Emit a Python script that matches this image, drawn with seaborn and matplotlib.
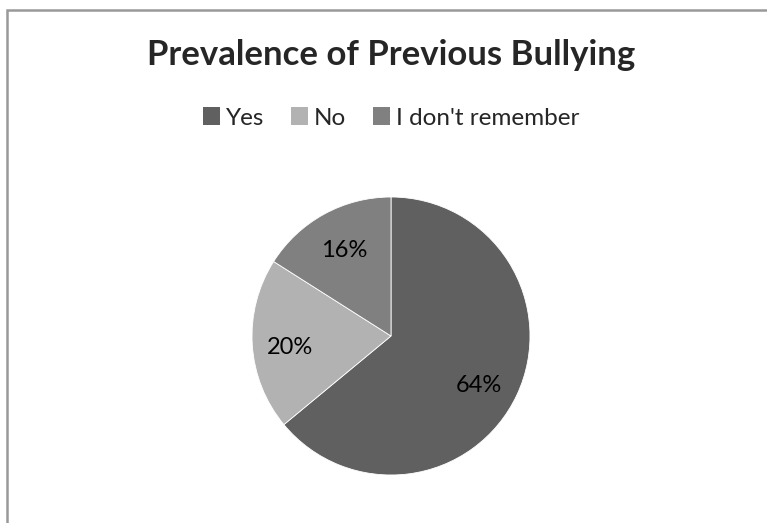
import seaborn as sns
import matplotlib.pyplot as plt
from matplotlib.patches import Rectangle, Patch

# data
labels = ["Yes", "No", "I don't remember"]
values = [64, 20, 16]
colors = ["#606060", "#b2b2b2", "#808080"]

sns.set_theme(style="white")
plt.rcParams['font.family'] = ['Lato', 'DejaVu Sans']

W, H = 767, 523
fig = plt.figure(figsize=(W / 100, H / 100), dpi=100)

# pie axes: center (391, 336), radius 139 px
cx, cy, r = 391, 336, 139
ax = fig.add_axes([(cx - r) / W, (H - cy - r) / H, 2 * r / W, 2 * r / H])
wedges, texts, autotexts = ax.pie(values, colors=sns.color_palette(colors), startangle=90,
                                  counterclock=False, autopct="%d%%", pctdistance=0.7,
                                  wedgeprops=dict(edgecolor="white", linewidth=0.6),
                                  textprops=dict(fontsize=17, color="black"))
# nudge labels a bit like excel's best fit
nudges = [(0.0, -0.06), (-0.03, -0.04), (0.0, 0.0)]
for t, (dx, dy) in zip(autotexts, nudges):
    x, y = t.get_position()
    t.set_position((x + dx, y + dy))
ax.set_xlim(-1, 1)
ax.set_ylim(-1, 1)
ax.set_aspect("equal")
ax.axis("off")

# title
fig.text(cx / W, 1 - 55 / H, "Prevalence of Previous Bullying", ha="center", va="center",
         fontsize=25, fontweight="bold")

# legend
handles = [Patch(facecolor=c, edgecolor="none") for c in colors]
fig.legend(handles, labels, loc="center", bbox_to_anchor=(cx / W, 1 - 118 / H), ncol=3,
           frameon=False, fontsize=17.5, handlelength=0.7, handleheight=0.7,
           handletextpad=0.25, columnspacing=1.1)

# chart border
fig.add_artist(Rectangle((7 / W, -0.1), 1.2, 1.1 - 10 / H, transform=fig.transFigure,
                         fill=False, edgecolor="#999999", linewidth=1.8))

fig.savefig("out.png", dpi=100)
